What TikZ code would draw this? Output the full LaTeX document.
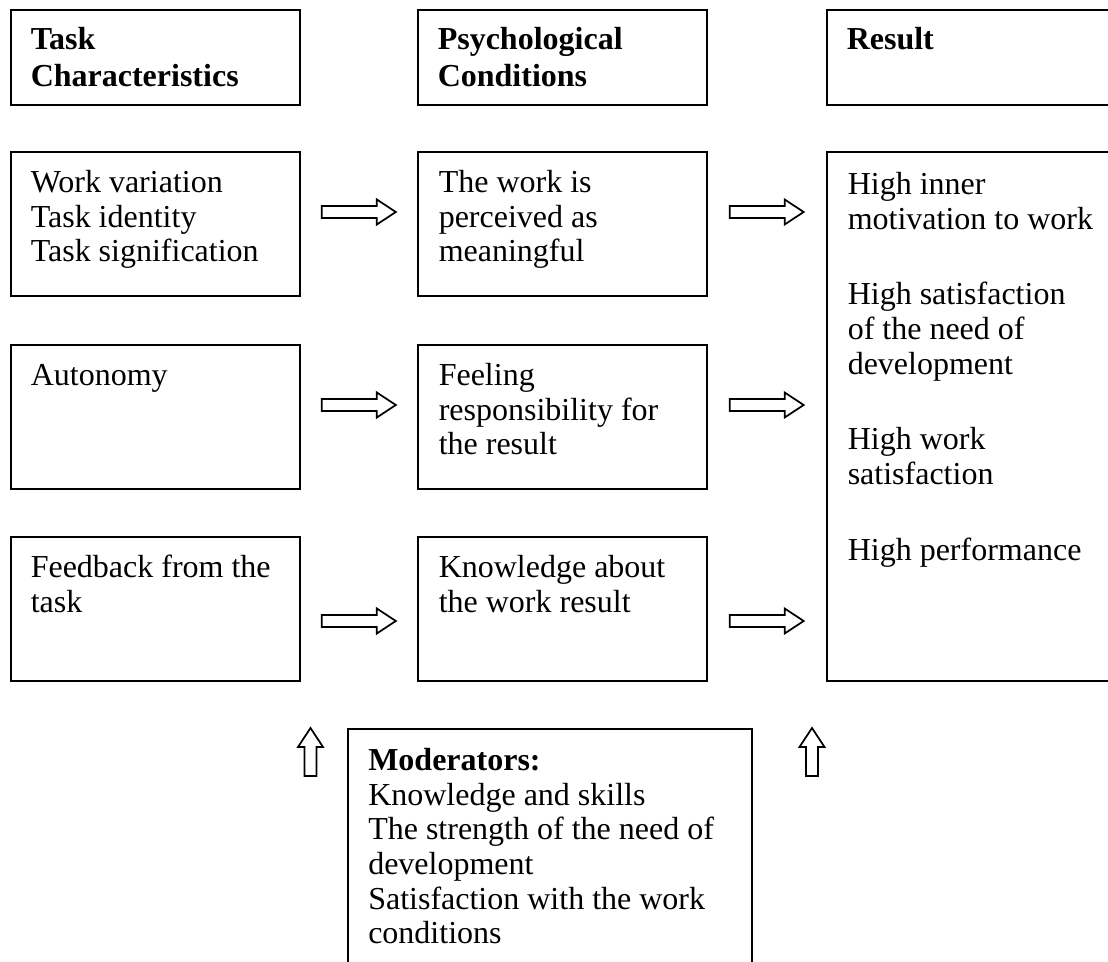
\documentclass[tikz,border=0pt]{standalone}
\usepackage{fontspec}
\setmainfont{Liberation Serif}
\usepackage{tikz}
\usetikzlibrary{calc,positioning}
\tikzset{
  plainbox/.style={draw=black,line width=1.5pt,outer sep=0pt,inner sep=0pt,anchor=north west},
  headbox/.style={plainbox,minimum width=216.5pt,minimum height=71.25pt},
  rowbox/.style={plainbox,minimum width=216.5pt,minimum height=108pt},
  boxtext/.style={anchor=north west,inner sep=0pt,align=left,font=\fontsize{24}{26}\selectfont},
  headtext/.style={boxtext,font=\fontsize{24}{27.75}\selectfont\bfseries},
  arrowline/.style={draw=black,line width=1.3pt,fill=white,line join=miter},
  hollowarrow/.pic={\draw[arrowline] ({-#1/2},-6) -- ({#1/2-19},-6) -- ({#1/2-19},-12.5) -- ({#1/2},0)
    -- ({#1/2-19},12.5) -- ({#1/2-19},6) -- ({-#1/2},6) -- cycle;}
}
\begin{document}
\begin{tikzpicture}[x=0.75pt,y=-0.75pt]
  \useasboundingbox (0,0) rectangle (1108,962);
  \clip (0,0) rectangle (1108,962);
  % header row
  \node[headbox] (taskhead) at (11,10) {};
  \node[headbox] (psyhead) at (418,10) {};
  \node[headbox,minimum width=240pt] (reshead) at (827,10) {};
  \node[headtext] (taskheadtxt) at ($(taskhead.north west)+(19.5,13)$) {\strut Task\\Characteristics};
  \node[headtext] (psyheadtxt) at ($(psyhead.north west)+(19.5,13)$) {\strut Psychological\\Conditions};
  \node[headtext] (resheadtxt) at ($(reshead.north west)+(19.5,13)$) {\strut Result};
  % task characteristics
  \node[rowbox] (task1) at (11,152) {};
  \node[rowbox] (task2) at (11,345) {};
  \node[rowbox] (task3) at (11,537) {};
  \node[boxtext] (task1txt) at ($(task1.north west)+(19.5,16)$) {\strut Work variation\\Task identity\\Task signification};
  \node[boxtext] (task2txt) at ($(task2.north west)+(19.5,16)$) {\strut Autonomy};
  \node[boxtext] (task3txt) at ($(task3.north west)+(19.5,16)$) {\strut Feedback from the\\task};
  % psychological conditions
  \node[rowbox] (psy1) at (418,152) {};
  \node[rowbox] (psy2) at (418,345) {};
  \node[rowbox] (psy3) at (418,537) {};
  \node[boxtext] (psy1txt) at ($(psy1.north west)+(20.5,16)$) {\strut The work is\\perceived as\\meaningful};
  \node[boxtext] (psy2txt) at ($(psy2.north west)+(20.5,16)$) {\strut Feeling\\responsibility for\\the result};
  \node[boxtext] (psy3txt) at ($(psy3.north west)+(20.5,16)$) {\strut Knowledge about\\the work result};
  % result
  \node[plainbox,minimum width=240pt,minimum height=396.75pt] (result) at (827,152) {};
  \node[boxtext] (resulttxt) at ($(result.north west)+(20.5,18)$)
    {\strut High inner\\motivation to work\\[30.75pt]High satisfaction\\of the need of\\development\\[30.75pt]High work\\satisfaction\\[30.75pt]High performance};
  % moderators
  \node[plainbox,minimum width=303pt,minimum height=225pt] (moder) at (348,729) {};
  \node[boxtext] (modertxt) at ($(moder.north west)+(20,17)$)
    {\strut\textbf{Moderators:}\\Knowledge and skills\\The strength of the need of\\development\\Satisfaction with the work\\conditions};
  % arrows
  \pic at ($(task1.east)!0.5!(psy1.west)+(0,-12)$) {hollowarrow=74};
  \pic at ($(task2.east)!0.5!(psy2.west)+(0,-12)$) {hollowarrow=74};
  \pic at ($(task3.east)!0.5!(psy3.west)+(0,12)$) {hollowarrow=74};
  \pic at ($(psy1.east)+(60,-12)$) {hollowarrow=74};
  \pic at ($(psy2.east)+(60,-12)$) {hollowarrow=74};
  \pic at ($(psy3.east)+(60,12)$) {hollowarrow=74};
  \pic[rotate=90] at ($(moder.north west)+(-37.5,23)$) {hollowarrow=48};
  \pic[rotate=90] at ($(moder.north east)+(60,23)$) {hollowarrow=48};
\end{tikzpicture}
\end{document}
